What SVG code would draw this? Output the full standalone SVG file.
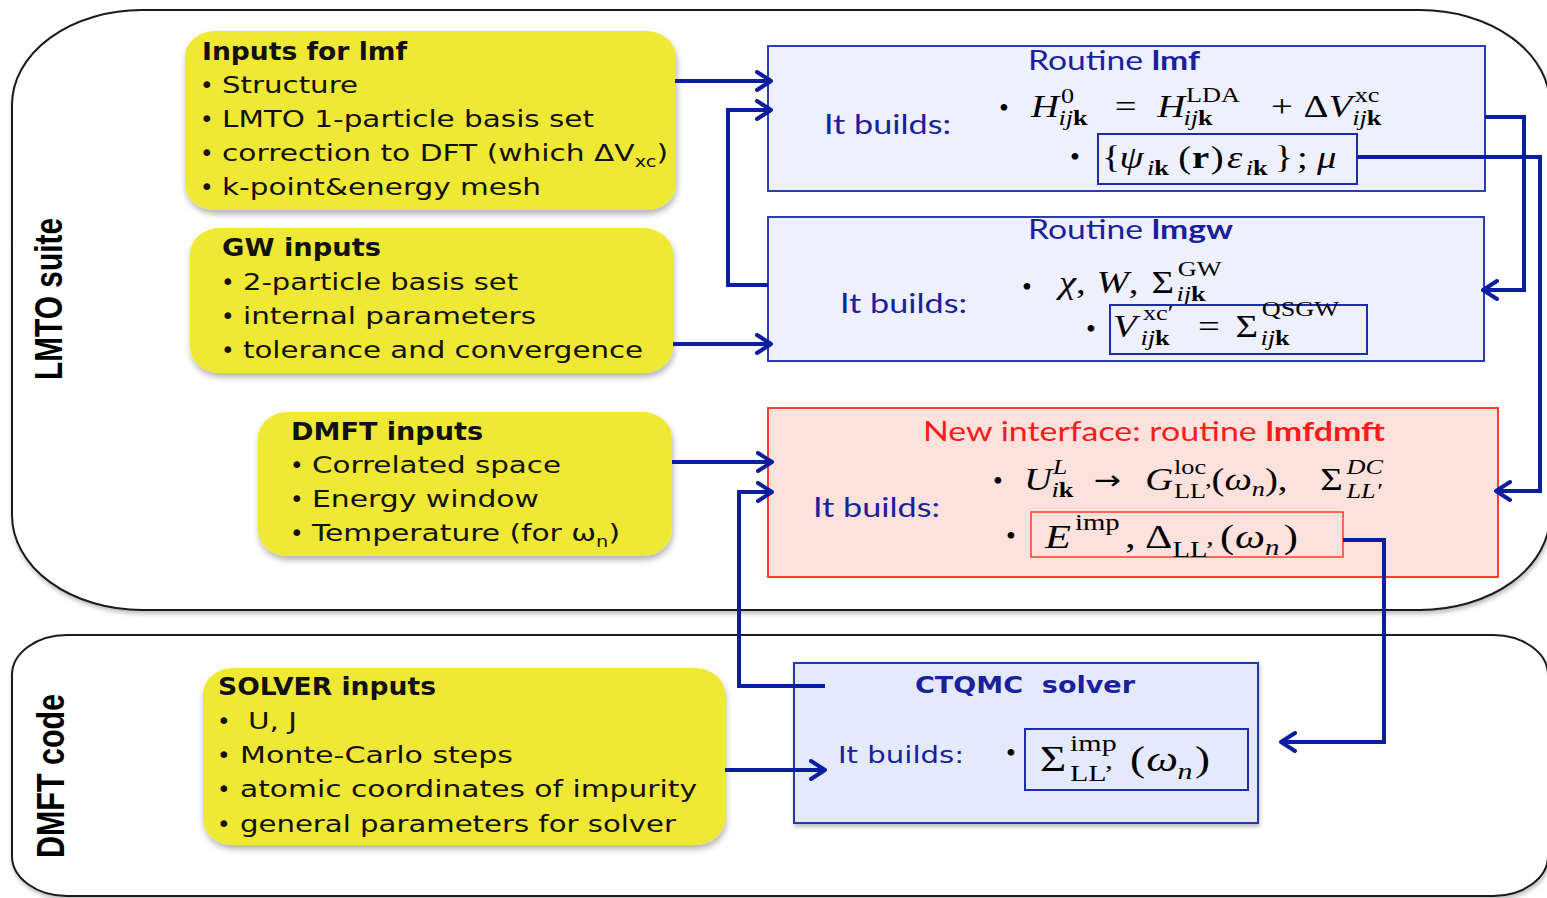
<svg xmlns="http://www.w3.org/2000/svg" width="1547" height="898" viewBox="0 0 1547 898">
<defs>
<filter id="sh" x="-10%" y="-10%" width="120%" height="130%"><feDropShadow dx="1" dy="4" stdDeviation="3" flood-color="#000" flood-opacity="0.3"/></filter>
<filter id="sh2" x="-5%" y="-5%" width="110%" height="110%"><feDropShadow dx="1" dy="3" stdDeviation="2" flood-color="#000" flood-opacity="0.25"/></filter>
<marker id="arr" markerUnits="userSpaceOnUse" viewBox="0 0 18 22" refX="16" refY="11" markerWidth="18" markerHeight="22" orient="auto">
<path d="M2,2 L16,11 L2,20" fill="none" stroke="#0b1f9e" stroke-width="4" stroke-linecap="round" stroke-linejoin="round"/>
</marker>
<style>
.cont{fill:#fff;stroke:#1a1a1a;stroke-width:2;filter:url(#sh2)}
.yb{fill:#efe935;filter:url(#sh)}
.t{font-family:"DejaVu Sans",Verdana,sans-serif;font-size:23px;fill:#111}
.tb{font-family:"DejaVu Sans",Verdana,sans-serif;font-size:24px;font-weight:bold;fill:#111}
.sub{font-size:15px}
.nav{font-family:Lato,"Open Sans",sans-serif;font-size:26px;fill:#1a1f9b}
.navv{font-family:"DejaVu Sans",Verdana,sans-serif;font-size:23px;fill:#1a1f9b}
.red{fill:#ff1a1a}
.bx{fill:#eef0fd;stroke:#2b3cb4;stroke-width:2}
.cbx{fill:#e4eafb;stroke:#2535b0;stroke-width:2;filter:url(#sh2)}
.ibx{fill:none;stroke:#1d2ca8;stroke-width:2}
.rbx{fill:#fde1dd;stroke:#ff3d28;stroke-width:2}
.rib{fill:none;stroke:#ff3d28;stroke-width:1.5}
.conn{fill:none;stroke:#0b1f9e;stroke-width:4;marker-end:url(#arr)}
.vl{font-family:"Liberation Sans",Arial,sans-serif;font-size:38px;font-weight:bold;fill:#000}
.m{font-family:"Liberation Serif","DejaVu Serif",serif;font-size:31px;fill:#000}
.i{font-style:italic}
.s{font-size:21px}
.b{font-weight:bold}
.ar{font-family:"DejaVu Sans",sans-serif;font-size:26px}
.bul{font-family:"Liberation Serif",serif;font-size:28px;fill:#000}
</style>
</defs>

<g id="lmto-suite">
<rect class="cont" x="12" y="10" width="1538" height="600" rx="130" ry="95"/>
<text class="vl" transform="translate(62 299) rotate(-90)" text-anchor="middle" textLength="162" lengthAdjust="spacingAndGlyphs">LMTO suite</text>
</g>
<g id="dmft-code">
<rect class="cont" x="12" y="635" width="1536" height="261" rx="55" ry="40"/>
<text class="vl" transform="translate(64 776) rotate(-90)" text-anchor="middle" textLength="164" lengthAdjust="spacingAndGlyphs">DMFT code</text>
</g>

<g id="inputs-lmf">
<rect class="yb" x="185" y="31" width="491" height="179" rx="30" ry="26"/>
<text class="tb" x="202" y="60" textLength="205" lengthAdjust="spacingAndGlyphs">Inputs for lmf</text>
<text class="t" x="200" y="93">•</text><text class="t" x="222" y="93" textLength="136" lengthAdjust="spacingAndGlyphs">Structure</text>
<text class="t" x="200" y="127">•</text><text class="t" x="222" y="127" textLength="372" lengthAdjust="spacingAndGlyphs">LMTO 1-particle basis set</text>
<text class="t" x="200" y="161">•</text><text class="t" x="222" y="161" textLength="446" lengthAdjust="spacingAndGlyphs">correction to DFT (which ΔV<tspan class="sub" dy="6">xc</tspan><tspan dy="-6">)</tspan></text>
<text class="t" x="200" y="195">•</text><text class="t" x="222" y="195" textLength="319" lengthAdjust="spacingAndGlyphs">k-point&amp;energy mesh</text>
</g>

<g id="gw-inputs">
<rect class="yb" x="190" y="228" width="483" height="145" rx="30" ry="26"/>
<text class="tb" x="222" y="256" textLength="159" lengthAdjust="spacingAndGlyphs">GW inputs</text>
<text class="t" x="221" y="290">•</text><text class="t" x="243" y="290" textLength="275" lengthAdjust="spacingAndGlyphs">2-particle basis set</text>
<text class="t" x="221" y="324">•</text><text class="t" x="243" y="324" textLength="293" lengthAdjust="spacingAndGlyphs">internal parameters</text>
<text class="t" x="221" y="358">•</text><text class="t" x="243" y="358" textLength="400" lengthAdjust="spacingAndGlyphs">tolerance and convergence</text>
</g>

<g id="dmft-inputs">
<rect class="yb" x="258" y="412" width="414" height="144" rx="30" ry="26"/>
<text class="tb" x="291" y="440" textLength="192" lengthAdjust="spacingAndGlyphs">DMFT inputs</text>
<text class="t" x="290" y="473">•</text><text class="t" x="312" y="473" textLength="249" lengthAdjust="spacingAndGlyphs">Correlated space</text>
<text class="t" x="290" y="507">•</text><text class="t" x="312" y="507" textLength="227" lengthAdjust="spacingAndGlyphs">Energy window</text>
<text class="t" x="290" y="541">•</text><text class="t" x="312" y="541" textLength="308" lengthAdjust="spacingAndGlyphs">Temperature (for ω<tspan class="sub" dy="6">n</tspan><tspan dy="-6">)</tspan></text>
</g>

<g id="solver-inputs">
<rect class="yb" x="203" y="668" width="522" height="177" rx="30" ry="26"/>
<text class="tb" x="218" y="695" textLength="218" lengthAdjust="spacingAndGlyphs">SOLVER inputs</text>
<text class="t" x="217" y="729">•</text><text class="t" x="248" y="729" textLength="49" lengthAdjust="spacingAndGlyphs">U, J</text>
<text class="t" x="217" y="763">•</text><text class="t" x="240" y="763" textLength="273" lengthAdjust="spacingAndGlyphs">Monte-Carlo steps</text>
<text class="t" x="217" y="797">•</text><text class="t" x="240" y="797" textLength="457" lengthAdjust="spacingAndGlyphs">atomic coordinates of impurity</text>
<text class="t" x="217" y="832">•</text><text class="t" x="240" y="832" textLength="436" lengthAdjust="spacingAndGlyphs">general parameters for solver</text>
</g>

<g id="routine-lmf">
<rect class="bx" x="768" y="46" width="717" height="145"/>
<text class="nav" x="1028" y="70" textLength="172" lengthAdjust="spacingAndGlyphs">Routine <tspan font-weight="bold">lmf</tspan></text>
<text class="nav" x="824" y="134" textLength="127" lengthAdjust="spacingAndGlyphs">It builds:</text>
<text class="bul" x="999" y="117">•</text>
<text class="m" transform="translate(1031 0) scale(1.25 1)"><tspan class="i" x="0" y="117">H</tspan><tspan class="s" x="24" y="103">0</tspan><tspan class="s i" x="22" y="125">ij</tspan><tspan class="s b">k</tspan><tspan x="67" y="117">=</tspan><tspan class="i" x="101" y="117">H</tspan><tspan class="s" x="124" y="102">LDA</tspan><tspan class="s i" x="122" y="125">ij</tspan><tspan class="s b">k</tspan><tspan x="192" y="117">+</tspan><tspan x="218" y="117">Δ</tspan><tspan class="i">V</tspan><tspan class="s" x="259" y="102">xc</tspan><tspan class="s i" x="257" y="125">ij</tspan><tspan class="s b">k</tspan></text>
<text class="bul" x="1070" y="166">•</text>
<rect class="ibx" x="1098" y="134" width="259" height="50"/>
<text class="m" transform="translate(1102 0) scale(1.25 1)"><tspan x="0" y="168">{</tspan><tspan class="i" x="14" y="168">ψ</tspan><tspan class="s i" x="36" y="175">i</tspan><tspan class="s b">k</tspan><tspan x="61" y="168">(</tspan><tspan class="b" x="72" y="168">r</tspan><tspan x="87" y="168">)</tspan><tspan class="i" x="100" y="168">ε</tspan><tspan class="s i" x="115" y="175">i</tspan><tspan class="s b">k</tspan><tspan x="138" y="168">}</tspan><tspan x="156" y="168">;</tspan><tspan class="i" x="172" y="168">μ</tspan></text>
</g>

<g id="routine-lmgw">
<rect class="bx" x="768" y="217" width="716" height="144"/>
<text class="nav" x="1028" y="239" textLength="205" lengthAdjust="spacingAndGlyphs">Routine <tspan font-weight="bold">lmgw</tspan></text>
<text class="nav" x="840" y="313" textLength="127" lengthAdjust="spacingAndGlyphs">It builds:</text>
<text class="bul" x="1022" y="296">•</text>
<text class="m" transform="translate(1059 0) scale(1.25 1)"><tspan class="i" x="0" y="293">χ</tspan><tspan>,</tspan><tspan class="i" x="30" y="293">W</tspan><tspan>,</tspan><tspan x="74" y="293">Σ</tspan><tspan class="s" x="95" y="276">GW</tspan><tspan class="s i" x="94" y="301">ij</tspan><tspan class="s b">k</tspan></text>
<text class="bul" x="1086" y="338">•</text>
<rect class="ibx" x="1110" y="305" width="257" height="49"/>
<text class="m" transform="translate(1113 0) scale(1.25 1)"><tspan class="i" x="0" y="337">V</tspan><tspan class="s" x="24" y="320">xc′</tspan><tspan class="s i" x="22" y="345">ij</tspan><tspan class="s b">k</tspan><tspan x="68" y="337">=</tspan><tspan x="98" y="337">Σ</tspan><tspan class="s" x="119" y="316">QSGW</tspan><tspan class="s i" x="118" y="345">ij</tspan><tspan class="s b">k</tspan></text>
</g>

<g id="lmfdmft">
<rect class="rbx" x="768" y="408" width="730" height="169"/>
<text class="nav red" x="923" y="441" textLength="462" lengthAdjust="spacingAndGlyphs">New interface: routine <tspan font-weight="bold">lmfdmft</tspan></text>
<text class="nav" x="813" y="517" textLength="127" lengthAdjust="spacingAndGlyphs">It builds:</text>
<text class="bul" x="993" y="490">•</text>
<text class="m" transform="translate(1024 0) scale(1.25 1)"><tspan class="i" x="0" y="490">U</tspan><tspan class="s i" x="23" y="474">L</tspan><tspan class="s i" x="22" y="497">i</tspan><tspan class="s b">k</tspan><tspan class="ar" x="56" y="489">→</tspan><tspan class="i" x="97" y="490">G</tspan><tspan class="s" x="120" y="474">loc</tspan><tspan class="s" x="120" y="498">LL’</tspan><tspan x="150" y="490">(</tspan><tspan class="i">ω</tspan><tspan class="s i" dy="6">n</tspan><tspan dy="-6">),</tspan><tspan x="237" y="490">Σ</tspan><tspan class="s i" x="258" y="474">DC</tspan><tspan class="s i" x="258" y="498">LL′</tspan></text>
<text class="bul" x="1006" y="545">•</text>
<rect class="rib" x="1031" y="512" width="312" height="45"/>
<text class="m" style="font-size:34px" transform="translate(1045 0) scale(1.25 1)"><tspan class="i" x="0" y="548">E</tspan><tspan class="s" style="font-size:23px" x="24" y="530">imp</tspan><tspan x="64" y="548">,</tspan><tspan x="80" y="548">Δ</tspan><tspan class="s" style="font-size:23px" x="102" y="557">LL’</tspan><tspan x="140" y="548">(</tspan><tspan class="i" x="152" y="548">ω</tspan><tspan class="s i" style="font-size:23px" x="176" y="555">n</tspan><tspan x="191" y="548">)</tspan></text>
</g>

<g id="ctqmc-solver">
<rect class="cbx" x="794" y="663" width="464" height="160"/>
<text class="navv" x="915" y="693" textLength="220" lengthAdjust="spacingAndGlyphs" font-weight="bold" xml:space="preserve">CTQMC  solver</text>
<text class="navv" x="838" y="763" textLength="126" lengthAdjust="spacingAndGlyphs">It builds:</text>
<text class="bul" x="1006" y="762">•</text>
<rect class="ibx" x="1025" y="729" width="223" height="61"/>
<text class="m" style="font-size:36px" transform="translate(1040 0) scale(1.25 1)"><tspan x="0" y="771">Σ</tspan><tspan class="s" style="font-size:24px" x="24" y="751">imp</tspan><tspan class="s" style="font-size:24px" x="24" y="781">LL’</tspan><tspan x="72" y="771">(</tspan><tspan class="i" x="85" y="771">ω</tspan><tspan class="s i" style="font-size:24px" x="110" y="779">n</tspan><tspan x="124" y="771">)</tspan></text>
</g>

<g id="connectors">
<path class="conn" d="M675,81 H771"/>
<path class="conn" d="M768,285 H728 V110 H771"/>
<path class="conn" d="M673,344 H771"/>
<path class="conn" d="M1485,117 H1524 V290 H1483"/>
<path class="conn" d="M1357,157 H1540 V491 H1496"/>
<path class="conn" d="M672,462 H772"/>
<path class="conn" d="M825,686 H739 V492 H772"/>
<path class="conn" d="M1343,540 H1384 V742 H1281"/>
<path class="conn" d="M725,770 H825"/>
</g>
</svg>
